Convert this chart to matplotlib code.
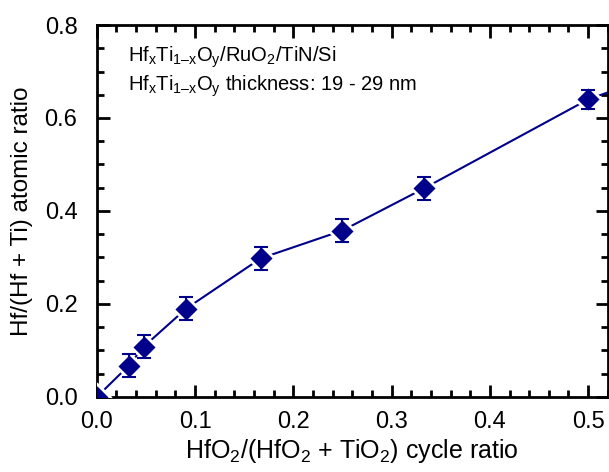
import matplotlib
matplotlib.use("Agg")
import matplotlib.pyplot as plt
from matplotlib.ticker import MultipleLocator

plt.rcParams['font.family'] = ['Liberation Sans', 'DejaVu Sans']
plt.rcParams['mathtext.fontset'] = 'custom'
plt.rcParams['mathtext.rm'] = 'Liberation Sans'
plt.rcParams['mathtext.it'] = 'Liberation Sans'

cycle_ratio = [0.0, 0.0323, 0.0476, 0.0909, 0.1667, 0.25, 0.3333, 0.5]
atomic_ratio = [0.0, 0.067, 0.108, 0.19, 0.298, 0.358, 0.449, 0.640]
err = [0.0, 0.025, 0.025, 0.025, 0.025, 0.025, 0.025, 0.02]
line_x = [0.0, 0.0323, 0.0476, 0.0909, 0.1667, 0.25, 0.3333, 0.5, 0.52]
line_y = [0.0, 0.067, 0.108, 0.19, 0.298, 0.358, 0.449, 0.640, 0.655]

color = '#00008B'
fig = plt.figure(figsize=(6.09, 4.72), dpi=100)
ax = fig.add_axes([0.159, 0.159, 0.839, 0.788])

ax.plot(line_x, line_y, '-', color=color, lw=1.5, zorder=2)
ax.plot(cycle_ratio, atomic_ratio, 'D', color=color, markersize=13.5,
        markeredgecolor='white', markeredgewidth=2.0, zorder=3, clip_on=True)
ax.errorbar(cycle_ratio[1:], atomic_ratio[1:], yerr=err[1:], fmt='none',
            ecolor=color, elinewidth=1.5, capsize=5, capthick=1.5, zorder=4)

ax.set_xlim(0, 0.52)
ax.set_ylim(0, 0.8)
ax.xaxis.set_major_locator(MultipleLocator(0.1))
ax.xaxis.set_minor_locator(MultipleLocator(0.02))
ax.yaxis.set_major_locator(MultipleLocator(0.2))
ax.yaxis.set_minor_locator(MultipleLocator(0.05))
ax.xaxis.set_major_formatter(plt.FormatStrFormatter('%.1f'))
ax.yaxis.set_major_formatter(plt.FormatStrFormatter('%.1f'))
ax.tick_params(which='both', direction='in', top=True, right=True, width=2)
ax.tick_params(which='major', length=9, labelsize=17)
ax.tick_params(axis='x', which='major', pad=10)
ax.tick_params(axis='y', which='major', pad=14)
ax.tick_params(which='minor', length=5)
for s in ax.spines.values():
    s.set_linewidth(2)

ax.set_xlabel(r'HfO$_2$/(HfO$_2$ + TiO$_2$) cycle ratio', fontsize=18, labelpad=3)
ax.set_ylabel('Hf/(Hf + Ti) atomic ratio', fontsize=17.5, labelpad=8)

ax.text(0.061, 0.914, 'Hf$_{\\rm x}$Ti$_{\\rm 1–x}$O$_{\\rm y}$/RuO$_2$/TiN/Si',
        transform=ax.transAxes, fontsize=14.5, va='center')
ax.text(0.061, 0.836, 'Hf$_{\\rm x}$Ti$_{\\rm 1–x}$O$_{\\rm y}$ thickness: 19 - 29 nm',
        transform=ax.transAxes, fontsize=14.5, va='center')

fig.savefig('out.png', dpi=100)
